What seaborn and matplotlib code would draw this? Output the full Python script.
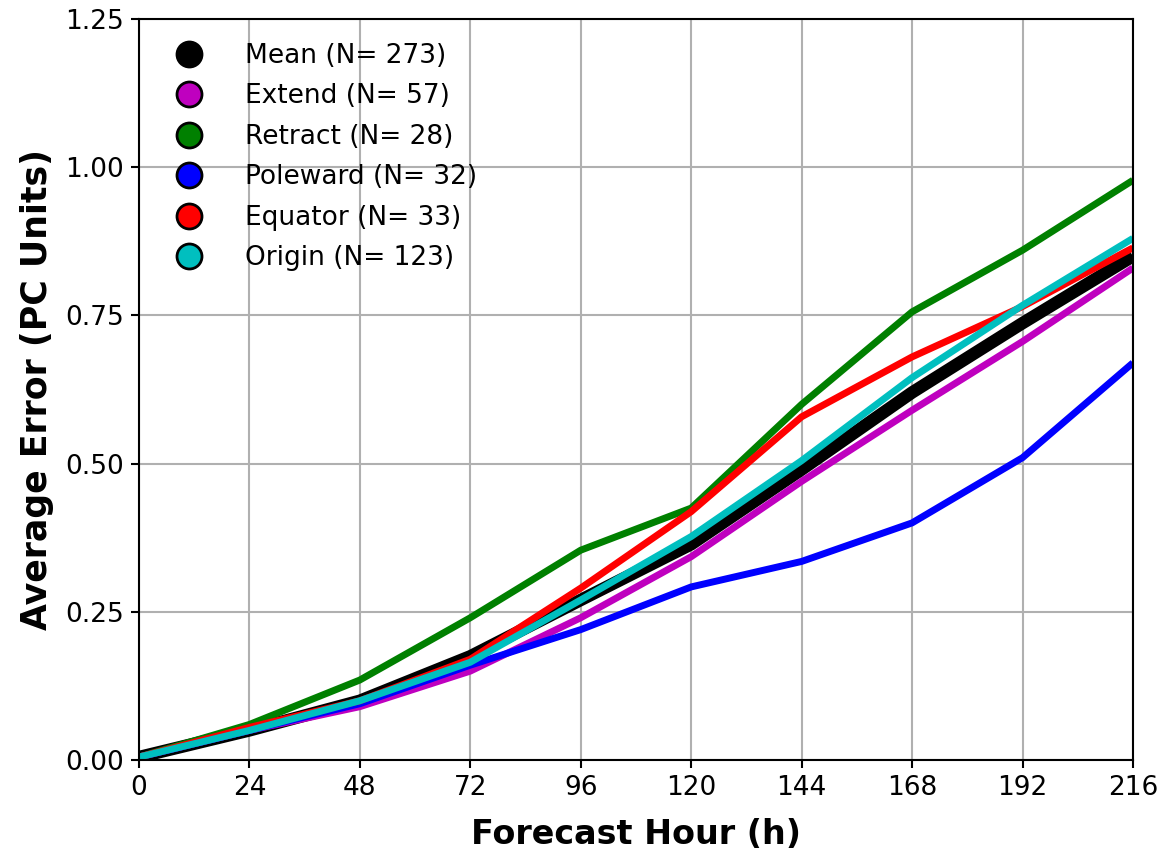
import numpy as np
import pandas as pd
import seaborn as sns
import matplotlib
matplotlib.use("Agg")
import matplotlib.pyplot as plt
from matplotlib.lines import Line2D

hours = [0, 24, 48, 72, 96, 120, 144, 168, 192, 216]
mean_err = [0.005, 0.05, 0.10, 0.175, 0.27, 0.364, 0.49, 0.62, 0.737, 0.85]
extend_err = [0.005, 0.05, 0.09, 0.15, 0.24, 0.343, 0.47, 0.59, 0.706, 0.83]
retract_err = [0.005, 0.06, 0.135, 0.24, 0.354, 0.425, 0.60, 0.756, 0.86, 0.978]
poleward_err = [0.005, 0.05, 0.095, 0.16, 0.22, 0.292, 0.335, 0.40, 0.51, 0.67]
equator_err = [0.005, 0.055, 0.10, 0.17, 0.29, 0.419, 0.579, 0.68, 0.765, 0.864]
origin_err = [0.005, 0.05, 0.10, 0.165, 0.27, 0.377, 0.505, 0.645, 0.767, 0.88]

labels = ['Mean (N= 273)', 'Extend (N= 57)', 'Retract (N= 28)',
          'Poleward (N= 32)', 'Equator (N= 33)', 'Origin (N= 123)']
colors = ['k', 'm', 'g', 'b', 'r', 'c']
widths = [9, 5, 5, 5, 5, 5]
series = [mean_err, extend_err, retract_err, poleward_err, equator_err, origin_err]

sns.set_style('whitegrid')
plt.rcParams['font.family'] = ['DejaVu Sans']
plt.rcParams['text.color'] = 'black'
plt.rcParams['axes.labelcolor'] = 'black'

fig = plt.figure(figsize=(11.62, 8.49), dpi=100)
ax = fig.add_axes([0.1196, 0.1048, 0.8554, 0.8728])

for lab, col, lw, vals in zip(labels, colors, widths, series):
    df = pd.DataFrame({'hour': hours, 'err': vals})
    sns.lineplot(data=df, x='hour', y='err', color=col, lw=lw, ax=ax,
                 solid_capstyle='butt')

ax.set_xlim(0, 216)
ax.set_ylim(0, 1.25)
ax.set_xticks(hours)
ax.set_yticks([0, 0.25, 0.5, 0.75, 1.0, 1.25])
ax.set_yticklabels(['0.00', '0.25', '0.50', '0.75', '1.00', '1.25'])
ax.grid(True, color='#b0b0b0', lw=1.5)
for s in ax.spines.values():
    s.set_color('black')
    s.set_linewidth(1.5)
ax.tick_params(axis='both', labelsize=19, direction='out', length=6, width=1.5,
               color='black', labelcolor='black', bottom=True, left=True, pad=5)
ax.set_xlabel('Forecast Hour (h)', fontsize=24, fontweight='bold', labelpad=12)
ax.set_ylabel('Average Error (PC Units)', fontsize=25, fontweight='bold', labelpad=8)

handles = [Line2D([], [], ls='none', marker='o', markersize=18, markerfacecolor=c,
                  markeredgecolor='k', markeredgewidth=2) for c in colors]
ax.legend(handles, labels, loc='upper left', frameon=False, fontsize=19,
          handletextpad=1.1, labelspacing=0.55, borderaxespad=0.5)

plt.savefig('out.png', dpi=100)
